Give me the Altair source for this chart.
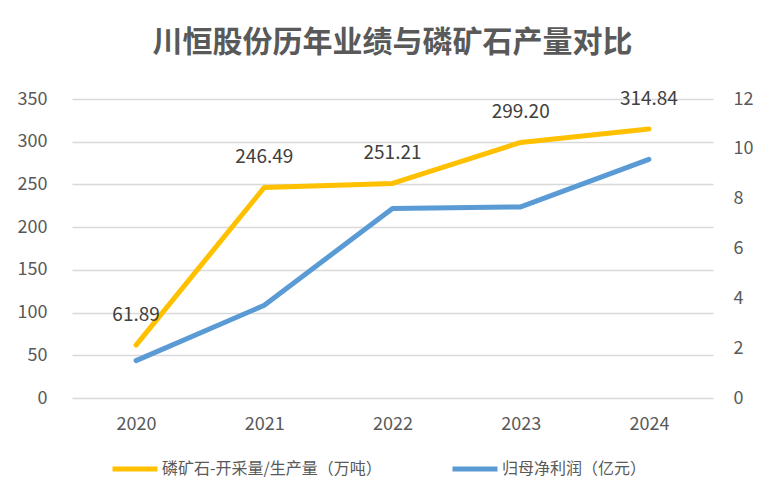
import altair as alt
import pandas as pd

years = ["2020", "2021", "2022", "2023", "2024"]
ore = [61.89, 246.49, 251.21, 299.20, 314.84]
ore_labels = ["61.89", "246.49", "251.21", "299.20", "314.84"]
profit = [1.50, 3.72, 7.61, 7.67, 9.58]
ore_name = "磷矿石-开采量/生产量（万吨）"
profit_name = "归母净利润（亿元）"
left_ticks = [0, 50, 100, 150, 200, 250, 300, 350]
right_ticks = [0, 2, 4, 6, 8, 10, 12]

df = pd.DataFrame({"year": years, "ore": ore, "ore_label": ore_labels, "profit": profit})

FONT = "Noto Sans CJK SC"
GREY = "#595959"

color = alt.Color(
    "series:N",
    scale=alt.Scale(domain=[ore_name, profit_name], range=["#FFC000", "#5B9BD5"]),
    legend=alt.Legend(
        title=None, orient="none", direction="horizontal",
        legendX=38, legendY=345,
        symbolType="stroke", symbolSize=2025, symbolStrokeWidth=5,
        labelFontSize=16, labelColor=GREY, labelFont=FONT, labelOffset=2,
        labelLimit=0, columnPadding=60,
    ),
)

x = alt.X("year:O", title=None,
          axis=alt.Axis(labelAngle=0, ticks=False, domain=False, grid=False,
                        labelFontSize=18, labelColor=GREY, labelFont=FONT, labelPadding=17))

base = alt.Chart(df)

ore_y = alt.Y("ore:Q", title=None,
              scale=alt.Scale(domain=[0, 350], nice=False, zero=True),
              axis=alt.Axis(orient="left", values=left_ticks, ticks=False, domain=False,
                            grid=True, gridColor="#D9D9D9", gridWidth=1.5,
                            labelFontSize=18, labelColor=GREY, labelFont=FONT, labelPadding=25))

ore_line = base.mark_line(strokeWidth=5, strokeCap="round", strokeJoin="round").transform_calculate(
    series=f"'{ore_name}'"
).encode(x=x, y=ore_y, color=color)

ore_text = base.mark_text(dy=-30, fontSize=19, color="#404040", font=FONT).encode(
    x=x, y=ore_y, text="ore_label:N"
)

profit_y = alt.Y("profit:Q", title=None,
                 scale=alt.Scale(domain=[0, 12], nice=False, zero=True),
                 axis=alt.Axis(orient="right", values=right_ticks, ticks=False, domain=False,
                               grid=False, labelFontSize=18, labelColor=GREY, labelFont=FONT,
                               labelPadding=20))

profit_line = base.mark_line(strokeWidth=5, strokeCap="round", strokeJoin="round").transform_calculate(
    series=f"'{profit_name}'"
).encode(x=x, y=profit_y, color=color)

left = alt.layer(ore_line, ore_text)

chart = alt.layer(left, profit_line).resolve_scale(y="independent").properties(
    width=641, height=299,
    background="white",
    autosize=alt.AutoSizeParams(type="none"),
    padding={"left": 64, "top": 91, "right": 54, "bottom": 90},
    title=alt.TitleParams(
        "川恒股份历年业绩与磷矿石产量对比", fontSize=30, fontWeight="bold", color=GREY,
        font=FONT, anchor="middle", offset=32,
    ),
).configure_view(strokeWidth=0).configure_axis(domain=False, ticks=False)

chart.save("out.html", embed_options={"renderer": "svg", "actions": False})
